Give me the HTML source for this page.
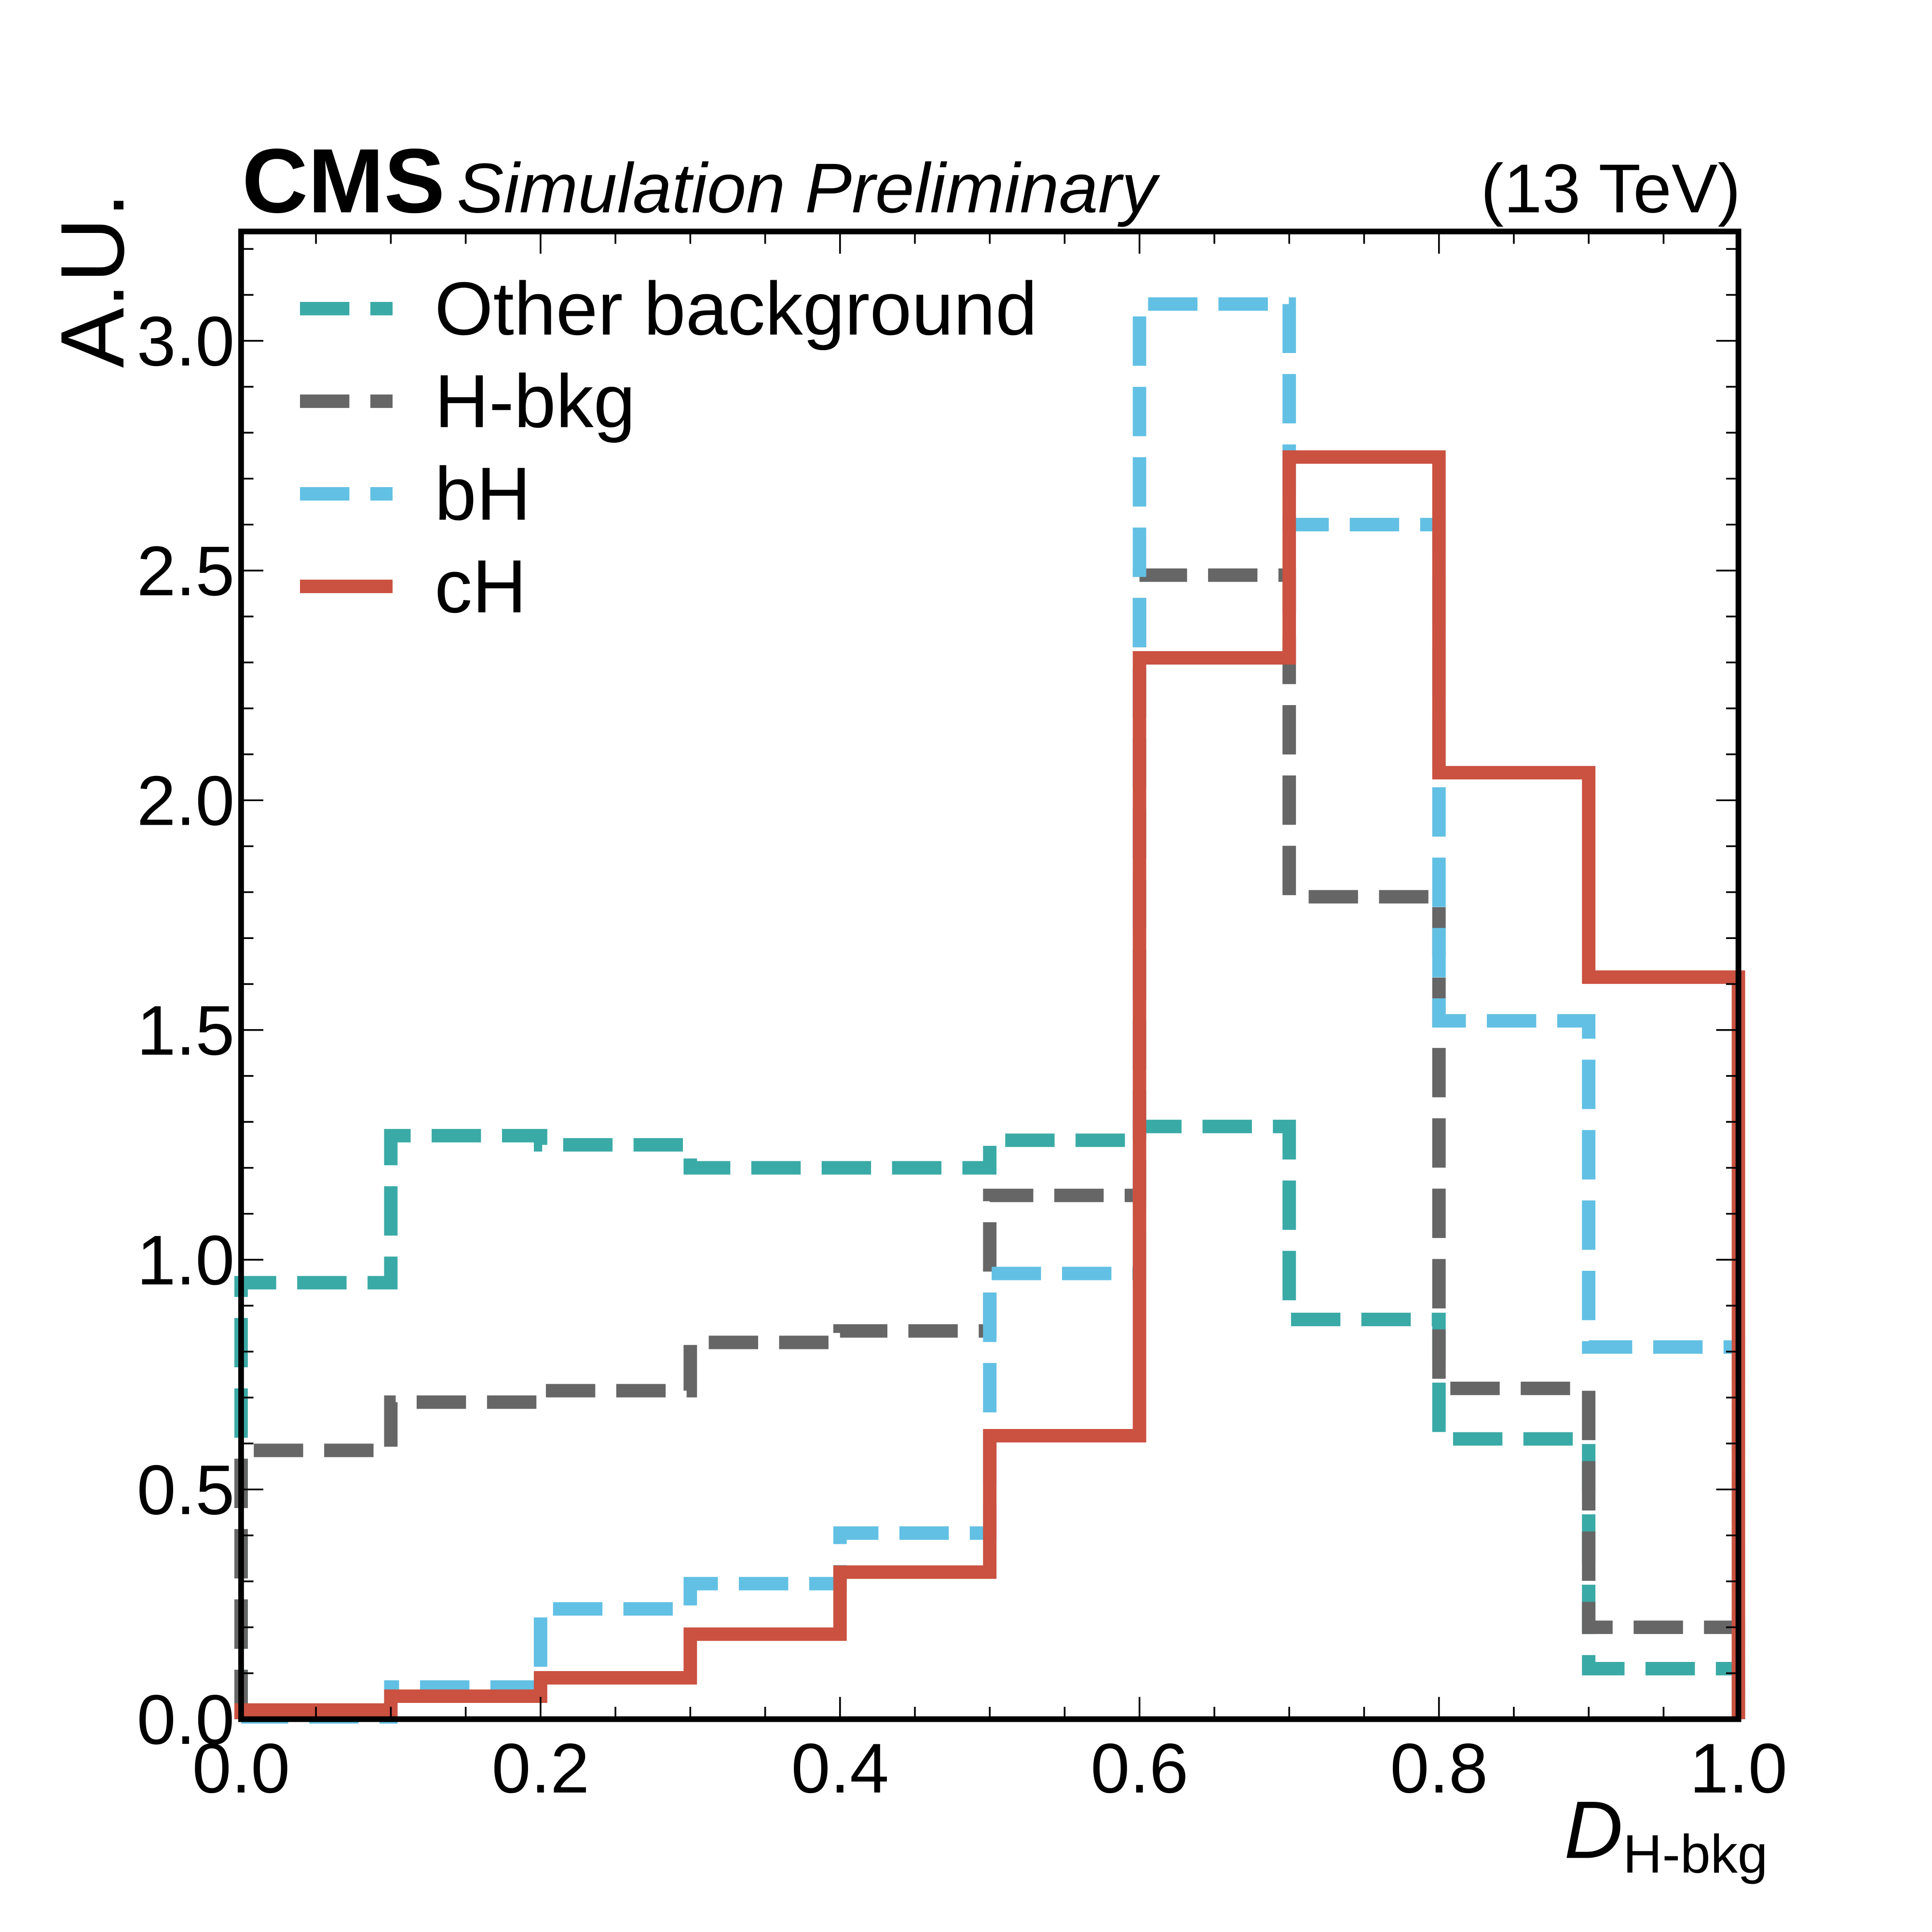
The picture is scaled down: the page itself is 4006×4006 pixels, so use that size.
<!DOCTYPE html>
<html><head><meta charset="utf-8"><style>
html,body{margin:0;padding:0;background:#fff;}
svg{display:block;font-family:"Liberation Sans",sans-serif;}
</style></head><body>
<svg id="chart" width="4006" height="4006" viewBox="0 0 1565 1565" xmlns="http://www.w3.org/2000/svg">
<g id="series"></g>
<rect x="195.3" y="187.5" width="1212.9" height="1205.1" fill="none" stroke="#000" stroke-width="4.6"/>
<g id="ticks"></g>
<text x="196" y="172" font-size="74" font-weight="bold">CMS</text>
<text x="370" y="172" font-size="57" font-style="italic">Simulation Preliminary</text>
<text x="1410" y="172" font-size="56" text-anchor="end">(13 TeV)</text>
<text transform="translate(100,298) rotate(-90)" font-size="73">A.U.</text>
<text x="1432" y="1505" font-size="66" text-anchor="end"><tspan font-style="italic">D</tspan><tspan font-size="44" dy="12">H-bkg</tspan></text>
<g id="legend"></g>
</svg>
<script>
const binEdges = [0,0.1,0.2,0.3,0.4,0.5,0.6,0.7,0.8,0.9,1.0];
const otherBkg = [0.95,1.27,1.25,1.20,1.20,1.26,1.29,0.87,0.61,0.11];
const hBkg = [0.585,0.69,0.715,0.82,0.845,1.14,2.49,1.79,0.72,0.20];
const bH = [0.005,0.07,0.24,0.295,0.405,0.97,3.08,2.60,1.52,0.81];
const cH = [0.02,0.05,0.09,0.185,0.32,0.617,2.31,2.747,2.06,1.615];
const xTicks = ["0.0","0.2","0.4","0.6","0.8","1.0"];
const yTicks = ["0.0","0.5","1.0","1.5","2.0","2.5","3.0"];
const seriesNames = ["Other background","H-bkg","bH","cH"];

const X0=195.3,X1=1408.2,Y0=1392.6,Y1=187.5,YMAX=3.238;
const xs=v=>X0+(X1-X0)*v;
const ys=v=>Y0-(Y0-Y1)*v/YMAX;
const NS="http://www.w3.org/2000/svg";
const mk=(t,a)=>{const e=document.createElementNS(NS,t);for(const k in a)e.setAttribute(k,a[k]);return e;};

const styles=[
 {c:"#3aaaa6",d:"40 17",vals:otherBkg,n:"other-background-line"},
 {c:"#666666",d:"40 17",vals:hBkg,n:"h-bkg-line"},
 {c:"#62c0e4",d:"40 17",vals:bH,n:"bh-line"},
 {c:"#cb5140",d:"",vals:cH,n:"ch-line"}];
const sg=document.getElementById("series");
styles.forEach(s=>{
 let d="M"+xs(binEdges[0])+","+ys(0);
 s.vals.forEach((v,i)=>{d+=" L"+xs(binEdges[i])+","+ys(v)+" L"+xs(binEdges[i+1])+","+ys(v);});
 d+=" L"+xs(binEdges[binEdges.length-1])+","+ys(0);
 const p=mk("path",{d:d,fill:"none",stroke:s.c,"stroke-width":10.9});
 if(s.d)p.setAttribute("stroke-dasharray",s.d);
 
 
 sg.appendChild(p);
});

const tg=document.getElementById("ticks");
for(let i=0;i<=20;i++){const v=i*0.05;const x=xs(v);const L=(i%4===0)?18:10;
 tg.appendChild(mk("line",{x1:x,y1:Y0,x2:x,y2:Y0-L,stroke:"#000","stroke-width":1.4}));
 tg.appendChild(mk("line",{x1:x,y1:Y1,x2:x,y2:Y1+L,stroke:"#000","stroke-width":1.4}));}
for(let i=0;i*0.1<=YMAX;i++){const y=ys(i*0.1);const L=(i%5===0)?18:10;
 tg.appendChild(mk("line",{x1:X0,y1:y,x2:X0+L,y2:y,stroke:"#000","stroke-width":1.4}));
 tg.appendChild(mk("line",{x1:X1,y1:y,x2:X1-L,y2:y,stroke:"#000","stroke-width":1.4}));}
xTicks.forEach((t,i)=>{const e=mk("text",{x:xs(parseFloat(t)),y:1452,"font-size":57,"text-anchor":"middle"});e.textContent=t;
 
 
 tg.appendChild(e);});
yTicks.forEach((t,i)=>{const e=mk("text",{x:190,y:ys(parseFloat(t))+20,"font-size":57,"text-anchor":"end"});e.textContent=t;
 
 
 tg.appendChild(e);});

const lg=document.getElementById("legend");
styles.forEach((s,i)=>{const y=250+i*75;
 const l=mk("line",{x1:243,y1:y,x2:318,y2:y,stroke:s.c,"stroke-width":10.9});
 if(s.d)l.setAttribute("stroke-dasharray",s.d);
 
 
 lg.appendChild(l);
 const t=mk("text",{x:352,y:y+21,"font-size":61});t.textContent=seriesNames[i];
 
 
 lg.appendChild(t);});
</script>
</body></html>
